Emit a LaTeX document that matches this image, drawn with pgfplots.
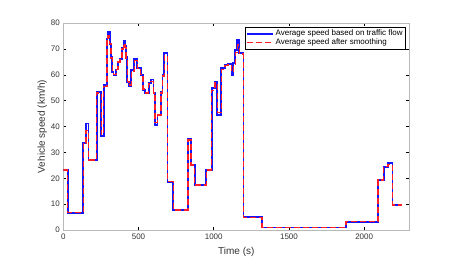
\documentclass[border=0pt]{standalone}
\usepackage{pgfplots}
\pgfplotsset{compat=1.18}
\usepackage{pgfplotstable}
\usepackage{fontspec}
\setmainfont{Liberation Sans}
\definecolor{mblue}{RGB}{20,20,255}
\definecolor{mred}{RGB}{255,30,40}

\pgfplotstableread{
t v
0 23.2
29 6.7
133 33.7
150 41.2
168 27.0
222 53.4
252 36.3
268 56.0
290 74.0
298 76.6
309 72.0
318 67.0
326 61.0
334 59.8
352 62.0
364 65.0
376 66.0
390 70.5
400 73.0
410 71.0
418 67.0
426 57.3
436 55.5
452 61.8
472 66.0
492 62.5
515 60.0
530 54.1
545 52.8
568 56.7
582 58.2
600 53.0
610 40.6
626 44.4
650 53.5
660 59.9
672 68.3
692 18.7
731 7.7
829 35.4
849 25.1
873 17.4
950 23.2
986 54.8
1008 57.3
1024 44.4
1050 62.5
1074 63.8
1095 64.2
1118 59.9
1130 64.4
1143 69.6
1156 73.4
1170 68.3
1198 4.9
1322 1.0
1878 3.2
2093 19.3
2130 24.5
2159 25.8
2188 9.7
2254 9.7
}\rawdata

\pgfplotstableread{
t v
0 23.2
29 6.7
133 33.7
150 38.5
168 27.0
222 53.0
252 36.8
268 55.5
290 73.0
298 75.0
309 72.0
318 66.5
326 61.0
334 60.0
352 62.0
364 65.0
376 66.0
390 70.0
400 72.0
410 70.5
418 66.5
426 57.5
436 56.0
452 61.5
472 65.5
492 62.5
515 60.0
530 54.5
545 53.0
568 56.5
582 57.5
600 53.0
610 41.5
626 44.4
650 53.0
660 59.5
672 67.5
692 18.7
731 7.7
829 34.8
849 25.1
873 17.4
950 23.2
986 54.0
1008 57.0
1024 45.5
1050 62.0
1074 63.5
1095 63.8
1118 61.0
1130 64.0
1143 68.5
1156 71.5
1170 68.0
1198 4.9
1322 1.0
1878 3.2
2093 19.3
2130 24.5
2159 25.3
2188 9.7
2254 9.7
}\smoothdata

\begin{document}
\begin{tikzpicture}[x=1pt,y=1pt]
\path[use as bounding box] (0,0) rectangle (465,269);
\begin{axis}[
  at={(63.3pt,39pt)}, anchor=south west,
  scale only axis, width=346pt, height=207pt,
  xmin=0, xmax=2300, ymin=0, ymax=80,
  xtick={0,500,...,2000}, ytick={0,10,...,80},
  tick align=inside, major tick length=3pt,
  axis line style={gray!55, line width=0.6pt},
  tick style={black, line width=0.5pt},
  ticklabel style={font=\fontsize{8}{9}\selectfont, text=black!80},
  /pgf/number format/assume math mode=true,
  /pgf/number format/1000 sep={},
  scaled ticks=false,
  xlabel={Time (s)}, ylabel={Vehicle speed (km/h)},
  label style={font=\fontsize{10}{12}\selectfont, text=black!80},
  xlabel style={at={(axis description cs:0.5,-0.106)}, anchor=center},
  ylabel style={at={(axis description cs:-0.061,0.5)}, anchor=center},
  legend style={at={(0.990,0.981)}, anchor=north east,
    font=\fontsize{8}{9}\selectfont, draw=black, line width=0.5pt,
    inner sep=1pt, row sep=-2.5pt},
  legend cell align=left,
  legend image code/.code={\draw[#1] (0pt,0pt) -- (26pt,0pt);},
]
\addplot[const plot, color=mblue, line width=1.8pt] table[x=t,y=v] {\rawdata};
\addlegendentry{Average speed based on traffic flow}
\addplot[const plot, color=mred, line width=1.4pt, dash pattern=on 6pt off 3pt] table[x=t,y=v] {\smoothdata};
\addlegendentry{Average speed after smoothing}
\end{axis}
\end{tikzpicture}
\end{document}
